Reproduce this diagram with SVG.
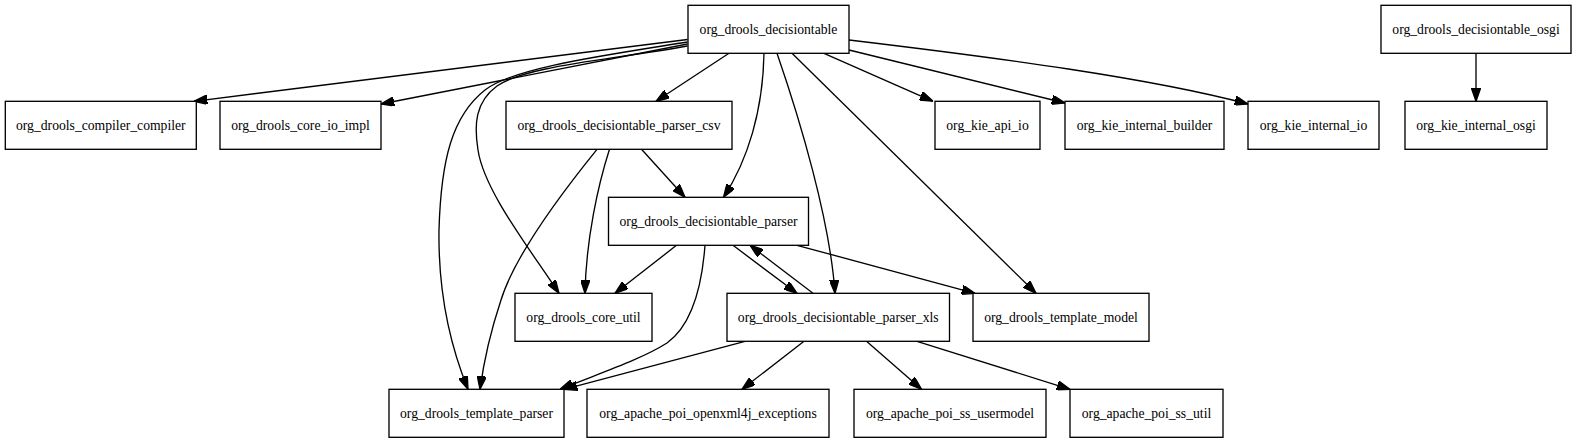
<svg xmlns="http://www.w3.org/2000/svg" width="1576" height="443" viewBox="0 0 1576 443">
<defs>
<marker id="arr" viewBox="0 0 10 7" refX="10" refY="3.5" markerWidth="13.3" markerHeight="9.3" markerUnits="userSpaceOnUse" orient="auto">
<path d="M0,0 L10,3.5 L0,7 Z" fill="#000" stroke="#000" stroke-width="1"/>
</marker>
</defs>
<style>
.n rect{fill:#fff;stroke:#000;stroke-width:1.33}
.n text{font-family:"Liberation Serif","Times New Roman",serif;font-size:13.67px;fill:#000;text-anchor:middle}
#edges path{fill:none;stroke:#000;stroke-width:1.33;marker-end:url(#arr)}
</style>
<rect width="1576" height="443" fill="#fff"/>
<g id="edges">
<path d="M687.5,39.5 L194,101.3"/>
<path d="M687.5,44 L381,104"/>
<path d="M687.5,42 C600,56 513,68 485,90 C452,116 441,160 439,230 C438,300 452,350 468,389.3"/>
<path d="M687.5,46 C610,60 525,66 497,86 C475,102 474,125 478,150 C484,190 527,245 559,293.3"/>
<path d="M729,53.3 L656,101.3"/>
<path d="M764,53.3 C763,110 748,160 723.5,197.3"/>
<path d="M777,53.3 C800,120 830,220 835,293.3"/>
<path d="M792,53.3 L1036,293.3"/>
<path d="M824,53.3 L933,101.3"/>
<path d="M849,50 L1065,103"/>
<path d="M849,40 C1000,58 1150,78 1248,104"/>
<path d="M1476,53.3 L1476,101.3"/>
<path d="M641.5,149.3 L685,197.3"/>
<path d="M609.5,149.3 C598,185 586,240 585,293.3"/>
<path d="M597,149.3 C560,195 515,255 501,300 C491,330 484,360 480,389.3"/>
<path d="M676.5,245.3 L615,293.3"/>
<path d="M705,245.3 C702,285 692,325 667,343 C640,360 600,373 560,389.3"/>
<path d="M733,245.3 L797,293.3"/>
<path d="M813,293.3 L750,245.3"/>
<path d="M797,245.3 L975,293.3"/>
<path d="M745,341.3 L564,389.3"/>
<path d="M804,341.3 L742,389.3"/>
<path d="M866.5,341.3 L921.5,389.3"/>
<path d="M917,341.3 L1070,389.3"/>
</g>
<g id="n_decisiontable" class="n"><rect x="688" y="5.3" width="161" height="48"/><text x="768.5" y="33.8">org_drools_decisiontable</text></g>
<g id="n_decisiontable_osgi" class="n"><rect x="1381" y="5.3" width="190" height="48"/><text x="1476" y="33.8">org_drools_decisiontable_osgi</text></g>
<g id="n_compiler_compiler" class="n"><rect x="5.3" y="101.3" width="191" height="48"/><text x="100.8" y="129.8">org_drools_compiler_compiler</text></g>
<g id="n_core_io_impl" class="n"><rect x="220" y="101.3" width="161" height="48"/><text x="300.5" y="129.8">org_drools_core_io_impl</text></g>
<g id="n_parser_csv" class="n"><rect x="506" y="101.3" width="226" height="48"/><text x="619" y="129.8">org_drools_decisiontable_parser_csv</text></g>
<g id="n_kie_api_io" class="n"><rect x="935" y="101.3" width="105" height="48"/><text x="987.5" y="129.8">org_kie_api_io</text></g>
<g id="n_kie_internal_builder" class="n"><rect x="1065" y="101.3" width="159" height="48"/><text x="1144.5" y="129.8">org_kie_internal_builder</text></g>
<g id="n_kie_internal_io" class="n"><rect x="1248" y="101.3" width="131" height="48"/><text x="1313.5" y="129.8">org_kie_internal_io</text></g>
<g id="n_kie_internal_osgi" class="n"><rect x="1405" y="101.3" width="142" height="48"/><text x="1476" y="129.8">org_kie_internal_osgi</text></g>
<g id="n_parser" class="n"><rect x="608.5" y="197.3" width="200" height="48"/><text x="708.5" y="225.8">org_drools_decisiontable_parser</text></g>
<g id="n_core_util" class="n"><rect x="515" y="293.3" width="137" height="48"/><text x="583.5" y="321.8">org_drools_core_util</text></g>
<g id="n_parser_xls" class="n"><rect x="727" y="293.3" width="222.5" height="48"/><text x="838.25" y="321.8">org_drools_decisiontable_parser_xls</text></g>
<g id="n_template_model" class="n"><rect x="973" y="293.3" width="176" height="48"/><text x="1061" y="321.8">org_drools_template_model</text></g>
<g id="n_template_parser" class="n"><rect x="389" y="389.3" width="175" height="48"/><text x="476.5" y="417.8">org_drools_template_parser</text></g>
<g id="n_openxml4j_exceptions" class="n"><rect x="587" y="389.3" width="242" height="48"/><text x="708" y="417.8">org_apache_poi_openxml4j_exceptions</text></g>
<g id="n_ss_usermodel" class="n"><rect x="854" y="389.3" width="192" height="48"/><text x="950" y="417.8">org_apache_poi_ss_usermodel</text></g>
<g id="n_ss_util" class="n"><rect x="1070" y="389.3" width="153" height="48"/><text x="1146.5" y="417.8">org_apache_poi_ss_util</text></g>
</svg>
